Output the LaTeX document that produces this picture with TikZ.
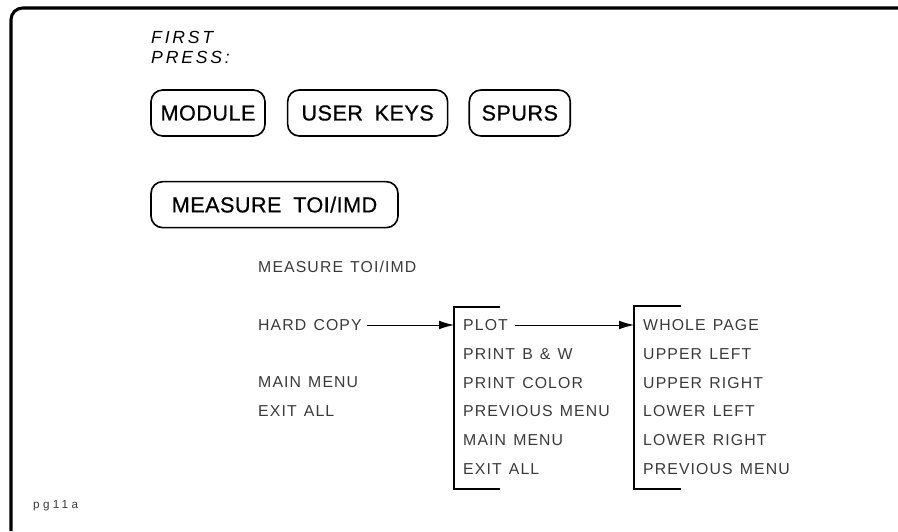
\documentclass[tikz,border=0pt]{standalone}
\usepackage{fontspec}
\setmainfont{Liberation Sans}
\newfontfamily\keyfont[LetterSpace=2, WordSpace=1.8, FakeBold=0.6]{Liberation Sans}
\newfontfamily\pressfont[LetterSpace=16]{Liberation Sans}
\newfontfamily\menufont[LetterSpace=7, WordSpace=1.3]{Liberation Sans}
\newfontfamily\tagfont[LetterSpace=28]{Liberation Sans}
\usetikzlibrary{arrows.meta, positioning}
\definecolor{ink}{HTML}{000000}
\definecolor{softink}{HTML}{3A3A3A}
\tikzset{
    hardkey/.style={rectangle, draw=ink, line width=1.4pt, rounded corners=10pt, minimum height=1.38cm, inner xsep=0pt, font=\keyfont\fontsize{18.5}{20}\selectfont},
    softkey/.style={anchor=west, inner sep=0pt, text=softink, font=\menufont\fontsize{13.5}{15}\selectfont},
    heading/.style={anchor=west, inner sep=0pt, align=left, font=\pressfont\itshape\fontsize{15}{17}\selectfont},
    bracket/.style={draw=ink, line width=1.8pt},
    frameline/.style={draw=ink, line width=2.6pt, rounded corners=10pt},
    arrow/.style={-{Latex[length=0.45cm, width=0.26cm]}, line width=0.8pt, color=ink}
}
\begin{document}
\begin{tikzpicture}[x=0.03cm, y=-0.03cm]
    \useasboundingbox (0,0) rectangle (898,531);
    \draw [frameline] (11,531) |- (898,8);

    \node [heading] (first) at (151,47) {FIRST\\PRESS:};

    \node [hardkey, minimum width=3.42cm] (module) at (208,113) {MODULE};
    \node [hardkey, minimum width=4.8cm, right=0.63cm of module] (userkeys) {USER KEYS};
    \node [hardkey, minimum width=3.03cm, right=0.6cm of userkeys] (spurs) {SPURS};
    \node [hardkey, minimum width=7.41cm, below=1.32cm of module.south west, anchor=north west] (measure) {MEASURE TOI/IMD};

    % first softkey menu
    \node [softkey] (title) at (258,267) {MEASURE TOI/IMD};
    \node [softkey] (hardcopy) at (258,325) {HARD COPY};
    \node [softkey] (mainmenu) at (258,382) {MAIN MENU};
    \node [softkey] (exitall) at (258,411) {EXIT ALL};

    % hard copy menu
    \node [softkey] (plot) at (463,325) {PLOT};
    \node [softkey, below=0.864cm of plot.west, anchor=west] (printbw) {PRINT B \& W};
    \node [softkey, below=0.864cm of printbw.west, anchor=west] (printcolor) {PRINT COLOR};
    \node [softkey, below=0.864cm of printcolor.west, anchor=west] (prevmenu) {PREVIOUS MENU};
    \node [softkey, below=0.864cm of prevmenu.west, anchor=west] (mainmenutwo) {MAIN MENU};
    \node [softkey, below=0.864cm of mainmenutwo.west, anchor=west] (exitalltwo) {EXIT ALL};

    % plot menu
    \node [softkey] (wholepage) at (643,325) {WHOLE PAGE};
    \node [softkey, below=0.864cm of wholepage.west, anchor=west] (upperleft) {UPPER LEFT};
    \node [softkey, below=0.864cm of upperleft.west, anchor=west] (upperright) {UPPER RIGHT};
    \node [softkey, below=0.864cm of upperright.west, anchor=west] (lowerleft) {LOWER LEFT};
    \node [softkey, below=0.864cm of lowerleft.west, anchor=west] (lowerright) {LOWER RIGHT};
    \node [softkey, below=0.864cm of lowerright.west, anchor=west] (prevmenutwo) {PREVIOUS MENU};

    \coordinate (copyin) at (454,325);
    \coordinate (plotin) at (634,325);
    \draw [bracket] (500,307) -| (454,489) -- (500,489);
    \draw [bracket] (681,306) -| (634,489) -- (681,489);

    \draw [arrow, shorten <=0.15cm] (hardcopy.east) -- (copyin);
    \draw [arrow, shorten <=0.2cm] (plot.east) -- (plotin);

    \node [anchor=west, inner sep=0pt, text=softink, font=\tagfont\fontsize{10}{11}\selectfont] (tag) at (33,506) {pg11a};
\end{tikzpicture}
\end{document}
